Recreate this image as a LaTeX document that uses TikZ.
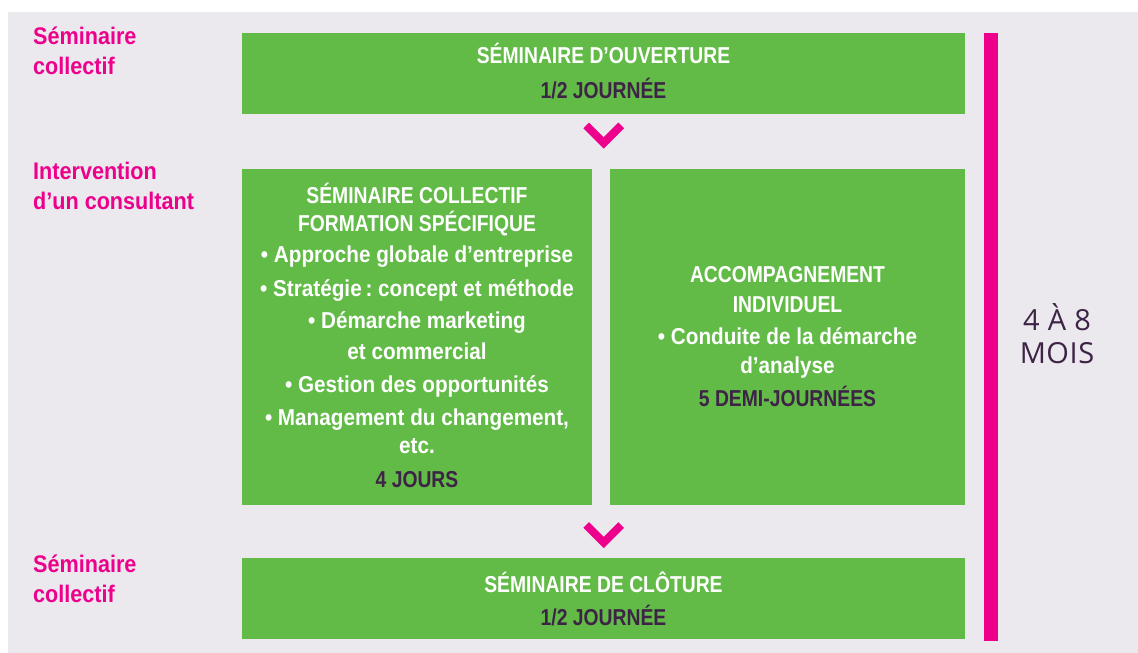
\documentclass[tikz,border=0pt]{standalone}
\usepackage{fontspec}
\setmainfont[FakeStretch=0.9]{Liberation Sans}
\newfontfamily\capsfont[FakeStretch=0.84]{Liberation Sans}
\newfontfamily\moisfont[LetterSpace=2]{Open Sans}
\usetikzlibrary{calc}
\definecolor{bggrey}{HTML}{EBE9EE}
\definecolor{boxgreen}{HTML}{62BB47}
\definecolor{accpink}{HTML}{EC008C}
\definecolor{darkplum}{HTML}{3D2345}
\frenchspacing
\begin{document}
\begin{tikzpicture}[x=1pt,y=-1pt,
  greenbox/.style={fill=boxgreen, draw=none, inner sep=0pt, anchor=north west},
  boxcaps/.style={anchor=base, text=white, font=\capsfont\bfseries\fontsize{23}{28}\selectfont, inner sep=0pt},
  boxtext/.style={anchor=base, text=white, font=\bfseries\fontsize{23}{28}\selectfont, inner sep=0pt},
  duration/.style={boxcaps, text=darkplum},
  sidelabel/.style={anchor=base west, text=accpink, font=\bfseries\fontsize{24}{30}\selectfont, inner sep=0pt},
  mois/.style={anchor=base, text=darkplum, font=\moisfont\fontsize{29}{33}\selectfont, inner sep=0pt},
  chevron/.style={draw=accpink, line width=8pt, line cap=butt, line join=miter}]
\useasboundingbox (0,0) rectangle (1138,653);
\fill[white] (0,0) rectangle (1138,653);
\fill[bggrey] (8,12) rectangle (1138,653);

% boxes
\node[greenbox, minimum width=723pt, minimum height=81pt] (open) at (242,33) {};
\node[greenbox, minimum width=350pt, minimum height=336pt] (coll) at (242,169) {};
\node[greenbox, minimum width=355pt, minimum height=336pt] (indiv) at (610,169) {};
\node[greenbox, minimum width=723pt, minimum height=81pt] (close) at (242,558) {};
\node[fill=accpink, inner sep=0pt, anchor=north west, minimum width=14pt, minimum height=608pt] (span) at (984,33) {};

% chevrons
\draw[chevron] ($(open.south)+(-17.5,11)$) -- ++(17.5,17.5) -- ++(17.5,-17.5);
\draw[chevron] ($(close.north)+(-17.5,-33)$) -- ++(17.5,17.5) -- ++(17.5,-17.5);

% side labels
\node[sidelabel] (l1a) at (33,44) {Séminaire};
\node[sidelabel] (l1b) at (33,74) {collectif};
\node[sidelabel] (l2a) at (33,179) {Intervention};
\node[sidelabel] (l2b) at (33,209) {d’un consultant};
\node[sidelabel] (l3a) at (33,572) {Séminaire};
\node[sidelabel] (l3b) at (33,602) {collectif};

% top box
\node[boxcaps] (t1) at (603.5,63) {SÉMINAIRE D’OUVERTURE};
\node[duration] (t2) at (603.5,98) {1/2 JOURNÉE};

% left box
\node[boxcaps] (c1) at (417,203) {SÉMINAIRE COLLECTIF};
\node[boxcaps] (c2) at (417,231) {FORMATION SPÉCIFIQUE};
\node[boxtext] (c3) at (417,262) {• Approche globale d’entreprise};
\node[boxtext] (c4) at (417,296) {• Stratégie\,: concept et méthode};
\node[boxtext] (c5) at (417,328) {• Démarche marketing};
\node[boxtext] (c6) at (417,359) {et commercial};
\node[boxtext] (c7) at (417,392) {• Gestion des opportunités};
\node[boxtext] (c8) at (417,425) {• Management du changement,};
\node[boxtext] (c9) at (417,453) {etc.};
\node[duration] (c10) at (417,487) {4 JOURS};

% right box
\node[boxcaps] (i1) at (787.5,282) {ACCOMPAGNEMENT};
\node[boxcaps] (i2) at (787.5,312) {INDIVIDUEL};
\node[boxtext] (i3) at (787.5,344) {• Conduite de la démarche};
\node[boxtext] (i4) at (787.5,373) {d’analyse};
\node[duration] (i5) at (787.5,406) {5 DEMI-JOURNÉES};

% bottom box
\node[boxcaps] (b1) at (603.5,592) {SÉMINAIRE DE CLÔTURE};
\node[duration] (b2) at (603.5,625) {1/2 JOURNÉE};

% duration
\node[mois] (m1) at (1057,330) {4 À 8};
\node[mois] (m2) at (1057,363) {MOIS};
\end{tikzpicture}
\end{document}
